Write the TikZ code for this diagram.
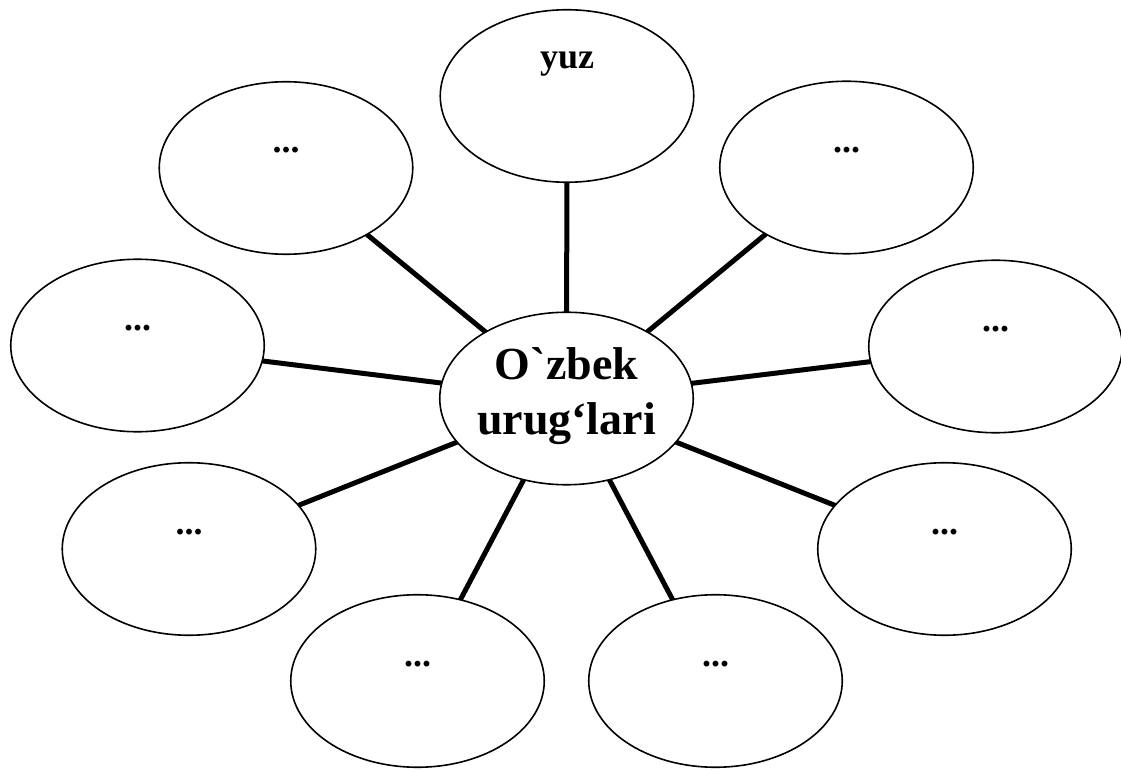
\documentclass[tikz,border=0pt]{standalone}
\usepackage{fontspec}
\newfontfamily\uzfont{Liberation Serif}
\usetikzlibrary{shapes.geometric,backgrounds}
\begin{document}
\begin{tikzpicture}[x=1pt,y=1pt,
  bubble/.style={ellipse, draw, fill=white, line width=1.6pt, inner sep=0pt, outer sep=0pt,
                 minimum width=253.5pt, minimum height=172.5pt},
  spoke/.style={line width=5pt},
  small/.style={anchor=base, inner sep=0pt, font=\uzfont\bfseries\fontsize{36}{40}\selectfont},
  big/.style={align=center, inner sep=0pt, font=\uzfont\bfseries\fontsize{46}{55}\selectfont}]
\useasboundingbox (0,0) rectangle (1121,769);

\node[bubble] (c)  at (566.5,370.5) {};
\node[bubble] (t)  at (567,673) {};
\node[bubble] (tl) at (286,601) {};
\node[bubble] (tr) at (846.5,601.5) {};
\node[bubble] (l)  at (137.5,423.5) {};
\node[bubble] (r)  at (995.5,422.5) {};
\node[bubble] (ll) at (189,220) {};
\node[bubble] (lr) at (944.5,220) {};
\node[bubble] (bl) at (417.5,88) {};
\node[bubble] (br) at (715.5,88) {};

\begin{scope}[on background layer]
\foreach \n in {t,tl,tr,l,r,ll,lr,bl,br}
  \draw[spoke] (c) -- (\n);
\end{scope}

\node[big] (ct) at (566.5,372.6) {O`zbek\\urug‘lari};
\node[small] (tt)  at ([yshift=27pt]t.center)  {yuz};
\node[small] (tlt) at ([yshift=15pt]tl.center) {...};
\node[small] (trt) at ([yshift=15pt]tr.center) {...};
\node[small] (lt)  at ([yshift=15pt]l.center)  {...};
\node[small] (rt)  at ([yshift=15pt]r.center)  {...};
\node[small] (llt) at ([yshift=15pt]ll.center) {...};
\node[small] (lrt) at ([yshift=15pt]lr.center) {...};
\node[small] (blt) at ([yshift=15pt]bl.center) {...};
\node[small] (brt) at ([yshift=15pt]br.center) {...};
\end{tikzpicture}
\end{document}
